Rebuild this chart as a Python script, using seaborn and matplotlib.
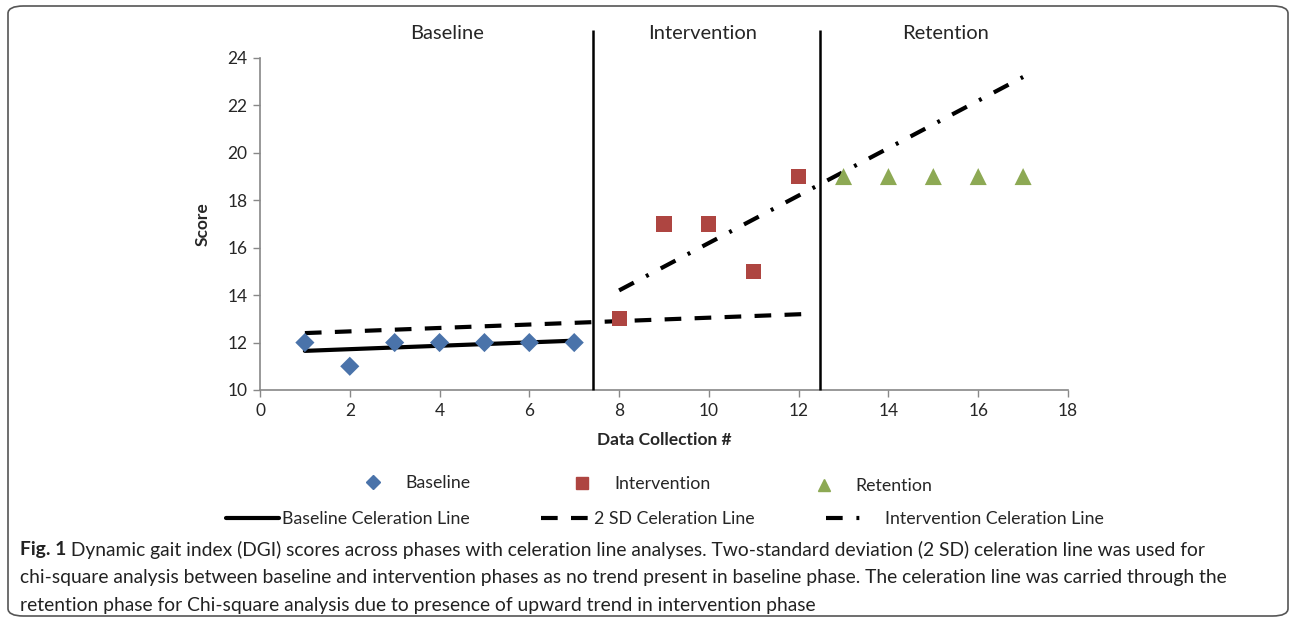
import numpy as np
import pandas as pd
import matplotlib
matplotlib.use("Agg")
import matplotlib.pyplot as plt
import seaborn as sns
from matplotlib.lines import Line2D
from matplotlib.patches import FancyBboxPatch

# =========================
# Data
# =========================

baseline_x = [1, 2, 3, 4, 5, 6, 7]
baseline_y = [12, 11, 12, 12, 12, 12, 12]

intervention_x = [8, 9, 10, 11, 12]
intervention_y = [13, 17, 17, 15, 19]

retention_x = [13, 14, 15, 16, 17]
retention_y = [19, 19, 19, 19, 19]

base_cel_x = [1, 7]
base_cel_y = [11.65, 12.08]

sd_cel_x = [1, 12.1]
sd_cel_y = [12.4, 13.2]

int_cel_x = [8, 17]
int_cel_y = [14.2, 23.2]

phase_change_x = [7.42, 12.47]
phase_labels = ["Baseline", "Intervention", "Retention"]
phase_label_x = [4.17, 9.87, 15.28]

x_ticks = [0, 2, 4, 6, 8, 10, 12, 14, 16, 18]
y_ticks = [10, 12, 14, 16, 18, 20, 22, 24]

caption_bold = "Fig. 1"
caption_lines = [
    " Dynamic gait index (DGI) scores across phases with celeration line analyses. Two-standard deviation (2 SD) celeration line was used for",
    "chi-square analysis between baseline and intervention phases as no trend present in baseline phase. The celeration line was carried through the",
    "retention phase for Chi-square analysis due to presence of upward trend in intervention phase",
]

blue = "#4A73AA"
red = "#AE4541"
green = "#8DA954"

# =========================
# Figure
# =========================

sns.set_style("white")
plt.rcParams["font.family"] = ["Lato", "DejaVu Sans"]

W, H = 1292, 622
fig = plt.figure(figsize=(W / 100, H / 100), dpi=100)
ax = fig.add_axes([260 / W, 1 - 390 / H, (1068 - 260) / W, (390 - 58) / H])

sns.scatterplot(x=baseline_x, y=baseline_y, marker="D", s=95, color=blue,
                edgecolor="none", ax=ax, legend=False, zorder=4)
sns.scatterplot(x=intervention_x, y=intervention_y, marker="s", s=120, color=red,
                edgecolor="none", ax=ax, legend=False, zorder=4)
sns.scatterplot(x=retention_x, y=retention_y, marker="^", s=150, color=green,
                edgecolor="none", ax=ax, legend=False, zorder=4)

sns.lineplot(x=base_cel_x, y=base_cel_y, color="black", lw=3, ax=ax, legend=False)
sns.lineplot(x=sd_cel_x, y=sd_cel_y, color="black", lw=3, ax=ax, legend=False)
ax.lines[-1].set_dashes((4, 3.2))
sns.lineplot(x=int_cel_x, y=int_cel_y, color="black", lw=3, ax=ax, legend=False)
ax.lines[-1].set_dashes((4, 3.3, 0.7, 3.3))

ax.vlines(phase_change_x, 10, 25.2, color="black", lw=1.8, clip_on=False, zorder=3)

for lab, xp in zip(phase_labels, phase_label_x):
    ax.text(xp, 25.05, lab, ha="center", va="center", fontsize=14.5)

ax.set_xlim(0, 18)
ax.set_ylim(10, 24)
ax.set_xticks(x_ticks)
ax.set_yticks(y_ticks)
ax.tick_params(axis="both", labelsize=12.5, length=5, width=1, color="#888888",
               direction="out", left=True, bottom=True, pad=4)
for side in ["top", "right"]:
    ax.spines[side].set_visible(False)
for side in ["left", "bottom"]:
    ax.spines[side].set_color("#888888")
    ax.spines[side].set_linewidth(1.2)

ax.set_xlabel("Data Collection #", fontsize=12.5, fontweight="bold", labelpad=10)
ax.set_ylabel("Score", fontsize=12.5, fontweight="bold", labelpad=12)

# =========================
# Legend entries (handle, label, left px, centre y px, handlelength, textpad)
# =========================

legend_items = [
    (Line2D([], [], ls="none", marker="D", ms=7, color=blue), "Baseline", 361, 483, 1.4, 1.1),
    (Line2D([], [], ls="none", marker="s", ms=9, color=red), "Intervention", 570, 484, 1.4, 1.1),
    (Line2D([], [], ls="none", marker="^", ms=9, color=green), "Retention", 812, 486, 1.4, 1.04),
    (Line2D([], [], color="black", lw=3), "Baseline Celeration Line", 226, 519, 3.0, 0.17),
    (Line2D([], [], color="black", lw=3, dashes=(4, 3.2)), "2 SD Celeration Line", 541, 519, 2.65, 0.34),
    (Line2D([], [], color="black", lw=3, dashes=(4, 3.3, 0.7, 3.3)), "Intervention Celeration Line", 826, 519, 2.2, 1.12),
]
for handle, label, px, py, hl, hp in legend_items:
    fig.legend(handles=[handle], labels=[label], loc="center left",
               bbox_to_anchor=(px / W, 1 - py / H), frameon=False,
               borderpad=0, borderaxespad=0, handlelength=hl,
               handletextpad=hp, fontsize=12.8)

# =========================
# Caption and frame
# =========================

frame = FancyBboxPatch((8 / W, 6 / H), (1288 - 8) / W, (616 - 6) / H,
                       boxstyle="round,pad=0,rounding_size=0.012",
                       transform=fig.transFigure, fill=False,
                       edgecolor="#555555", lw=1.2)
fig.add_artist(frame)

cap_size = 13.9
line_y = [550, 577, 605]
t0 = fig.text(20 / W, 1 - line_y[0] / H, caption_bold, fontsize=cap_size,
              fontweight="bold", va="center", color="#222222")
ax.annotate(caption_lines[0], xy=(1, 0.5), xycoords=t0, va="center", ha="left",
            fontsize=cap_size, color="#222222", annotation_clip=False)
for txt, yy in zip(caption_lines[1:], line_y[1:]):
    fig.text(20 / W, 1 - yy / H, txt, fontsize=cap_size, va="center", color="#222222")

fig.savefig("out.png", dpi=100)
